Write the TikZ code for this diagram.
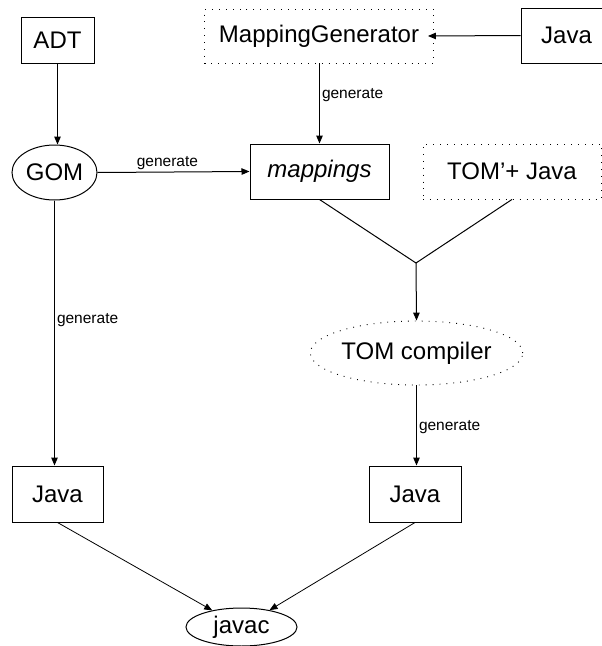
\documentclass[tikz,border=0pt]{standalone}
\usepackage{fontspec}
\setmainfont{Liberation Sans}
\usetikzlibrary{shapes.geometric,arrows.meta}
\tikzset{
  base/.style={draw=black, line width=1pt, inner sep=0pt, font=\fontsize{24}{28}\selectfont},
  boxnode/.style={base, rectangle},
  dotbox/.style={base, rectangle, line width=0.9pt, dash pattern=on 0.9pt off 6pt},
  ellnode/.style={base, ellipse},
  dotell/.style={base, ellipse, line width=0.9pt, dash pattern=on 0.9pt off 6pt},
  arr/.style={line width=1pt, -{Triangle[length=8pt,width=6.5pt]}},
  ln/.style={line width=1pt},
  thinarr/.style={line width=0.8pt, -{Triangle[length=8pt,width=6.5pt]}},
  lbl/.style={font=\fontsize{15.5}{18}\selectfont, inner sep=2pt}
}
\begin{document}
\begin{tikzpicture}[x=1pt,y=-1pt]
\useasboundingbox (0,0) rectangle (602,646);
\node[boxnode, minimum width=73pt, minimum height=46pt] (adt) at (57.5,40) {ADT};
\node[dotbox, minimum width=229pt, minimum height=54pt] (mg) at (319,36) {MappingGenerator};
\node[boxnode, minimum width=91pt, minimum height=55pt] (jt) at (566.5,35.5) {Java};
\node[ellnode, minimum width=85pt, minimum height=55pt] (gom) at (54.5,172.5) {GOM};
\node[boxnode, minimum width=139pt, minimum height=55pt] (map) at (319.5,171.5) {\itshape mappings};
\node[dotbox, minimum width=178pt, minimum height=55pt] (tj) at (512,171.5) {TOM’+ Java};
\coordinate (jn) at (416,263);
\node[dotell, minimum width=203pt, minimum height=64pt] (tc) at (416.5,353) {TOM compiler};
\node[boxnode, minimum width=91pt, minimum height=56pt] (jl) at (57.5,494) {Java};
\node[boxnode, minimum width=92pt, minimum height=56pt] (jr) at (415,494) {Java};
\node[ellnode, minimum width=111pt, minimum height=38pt] (jc) at (241.5,627) {javac};

\draw[arr] (adt) -- (adt.south |- gom.north);
\draw[arr] (jt.west) -- ([xshift=-6pt]mg.east);
\draw[arr] (mg.south -| map.north) -- node[lbl, pos=0.4, anchor=west] (l1) {generate} (map.north);
\draw[arr] (gom.east) -- node[lbl, pos=0.46, anchor=south] (l2) {generate} (map.west);
\draw[ln] (map.south) -- (jn);
\draw[ln] (tj.south) -- (jn);
\draw[arr] (jn) -- (tc.north);
\draw[arr] (gom.south) -- node[lbl, pos=0.45, anchor=west] (l3) {generate} (gom.south |- jl.north);
\draw[arr] (tc.south) -- node[lbl, pos=0.52, anchor=west] (l4) {generate} (tc.south |- jr.north);
\draw[thinarr] (jl.south) -- (jc);
\draw[thinarr] (jr.south) -- (jc);
\end{tikzpicture}
\end{document}
